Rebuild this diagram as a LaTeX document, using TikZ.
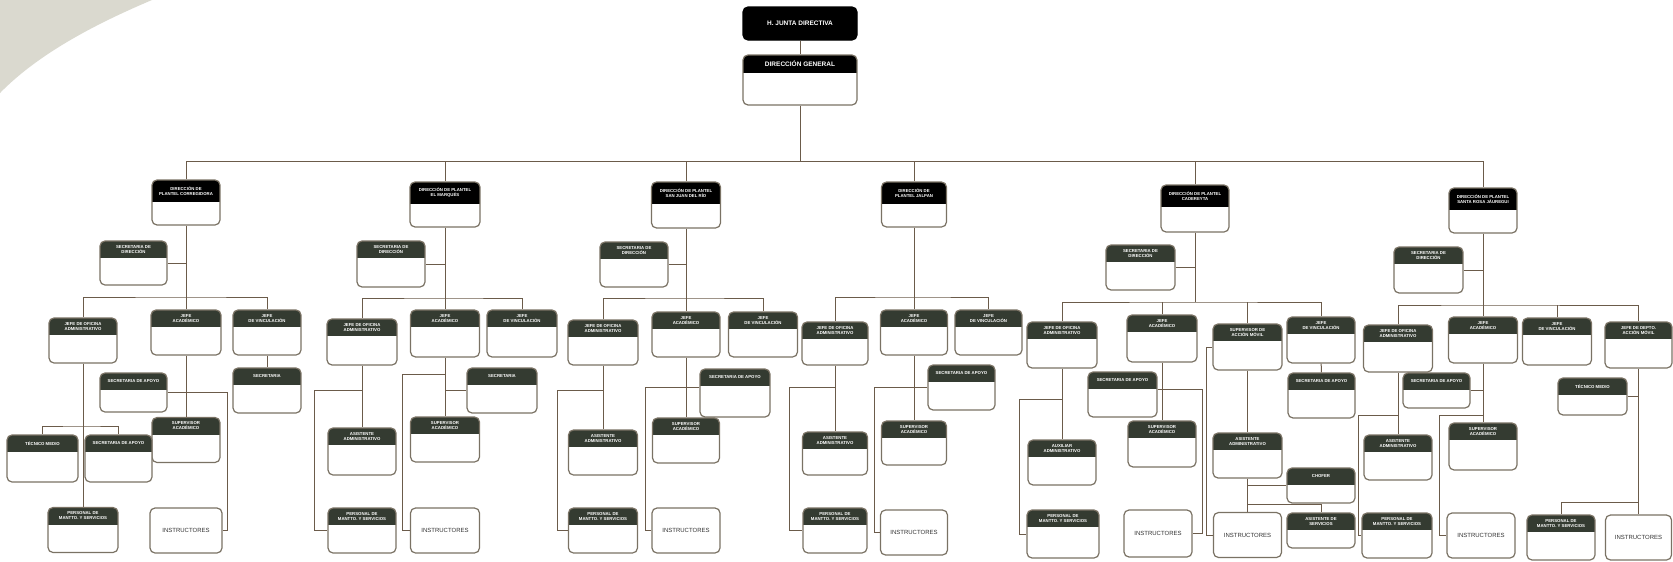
\documentclass[tikz,border=0pt]{standalone}
\usepackage{fontspec}
\setsansfont{Liberation Sans}
\usepackage{tikz}
\definecolor{boxline}{HTML}{7A7264}
\definecolor{hdr}{HTML}{343B31}
\definecolor{linecol}{HTML}{6B5B4A}
\definecolor{wedge}{HTML}{DAD9CF}
\tikzset{
  unit/.style={draw=boxline, line width=1.2pt, rounded corners=5pt, fill=white,
    minimum width=68pt, minimum height=45pt, inner sep=0pt},
  hdrtext/.style={text=white, font=\sffamily\bfseries\fontsize{4.3}{5}\selectfont,
    align=center, inner sep=0pt, minimum width=0pt, minimum height=0pt, draw=none, fill=none},
  hdrbox/.style n args={3}{unit, path picture={
      \fill[#1, sharp corners] (path picture bounding box.north west) rectangle ([yshift=-#2]path picture bounding box.north east);
      \node[hdrtext] at ([yshift=-#2/2]path picture bounding box.north) {#3};}},
  puesto/.style={hdrbox={hdr}{17pt}{#1}},
  plantel/.style={hdrbox={black}{22pt}{#1}},
  instr/.style={unit, font=\sffamily\fontsize{6}{7}\selectfont, text=black!80},
}
\tikzstyle{link}=[draw=linecol, line width=1pt]

\begin{document}
\begin{tikzpicture}[x=1pt,y=-1pt]
  \useasboundingbox (0,0) rectangle (1673,562);
  \fill[white] (0,0) rectangle (1673,562);
  \fill[wedge] (0,0) -- (152,0) .. controls (100,22) and (40,52) .. (0,93) -- cycle;

  % cabeza
  \node[unit, fill=black, draw=black, minimum width=114pt, minimum height=33pt, text=white,
    font=\sffamily\bfseries\fontsize{6.5}{7}\selectfont] (hjd) at (800,23.5) {H. JUNTA DIRECTIVA};
  \node[hdrbox={black}{18pt}{\fontsize{6.5}{7}\selectfont DIRECCIÓN GENERAL},
    minimum width=114pt, minimum height=50pt] (dg) at (800,80) {};

  % plantel corregidora
  \node[plantel={DIRECCIÓN DE\\PLANTEL CORREGIDORA}] (cDir) at (186,202.5) {};
  \node[puesto={SECRETARIA DE\\DIRECCIÓN}, minimum width=67pt, minimum height=44pt] (cSec) at (133.5,263) {};
  \node[puesto={JEFE DE OFICINA\\ADMINISTRATIVO}] (cAdm) at (83,340.5) {};
  \node[puesto={JEFE\\ACADÉMICO}, minimum width=70pt] (cAca) at (186,332.5) {};
  \node[puesto={JEFE\\DE VINCULACIÓN}] (cVin) at (267,332.5) {};
  \node[puesto={SECRETARIA}] (cSev) at (267,390.5) {};
  \node[puesto={SECRETARIA DE APOYO}, minimum width=67pt, minimum height=39pt] (cSaA) at (133.5,392.5) {};
  \node[puesto={SUPERVISOR\\ACADÉMICO}] (cSup) at (186,440) {};
  \node[puesto={TÉCNICO MEDIO}, minimum width=71pt, minimum height=47pt] (cTec) at (42.5,458.5) {};
  \node[puesto={SECRETARIA DE APOYO}, minimum width=67pt, minimum height=47pt] (cSaM) at (118.5,458.5) {};
  \node[puesto={PERSONAL DE\\MANTTO. Y SERVICIOS}, minimum width=70pt] (cPer) at (83,530) {};
  \node[instr, minimum width=72pt] (cIns) at (186,530.5) {INSTRUCTORES};

  % plantel el marques
  \node[plantel={DIRECCIÓN DE PLANTEL\\EL MARQUÉS}, minimum width=70pt] (mDir) at (445,204.5) {};
  \node[puesto={SECRETARIA DE\\DIRECCIÓN}, minimum height=46pt] (mSec) at (391,264) {};
  \node[puesto={JEFE DE OFICINA\\ADMINISTRATIVO}, minimum width=70pt, minimum height=46pt] (mAdm) at (362,342) {};
  \node[puesto={JEFE\\ACADÉMICO}, minimum width=69pt, minimum height=47pt] (mAca) at (445,333.5) {};
  \node[puesto={JEFE\\DE VINCULACIÓN}, minimum width=70pt, minimum height=47pt] (mVin) at (522,333.5) {};
  \node[puesto={SECRETARIA}, minimum width=70pt] (mSea) at (502,390.5) {};
  \node[puesto={SUPERVISOR\\ACADÉMICO}, minimum width=69pt] (mSup) at (445,439.5) {};
  \node[instr, minimum width=69pt] (mIns) at (445,530.5) {INSTRUCTORES};
  \node[puesto={ASISTENTE\\ADMINISTRATIVO}, minimum height=47pt] (mAsi) at (362,451.5) {};
  \node[puesto={PERSONAL DE\\MANTTO. Y SERVICIOS}] (mPer) at (362,530.5) {};

  % plantel san juan del rio
  \node[plantel={DIRECCIÓN DE PLANTEL\\SAN JUAN DEL RÍO}, minimum width=69pt, minimum height=46pt] (sDir) at (686,205) {};
  \node[puesto={SECRETARIA DE\\DIRECCIÓN}] (sSec) at (634,264.5) {};
  \node[puesto={JEFE DE OFICINA\\ADMINISTRATIVO}, minimum width=70pt] (sAdm) at (603,342.5) {};
  \node[puesto={JEFE\\ACADÉMICO}] (sAca) at (686,334.5) {};
  \node[puesto={JEFE\\DE VINCULACIÓN}, minimum width=69pt] (sVin) at (763,334.5) {};
  \node[puesto={SECRETARIA DE APOYO}, minimum width=70pt, minimum height=48pt] (sSaA) at (735,393) {};
  \node[puesto={SUPERVISOR\\ACADÉMICO}, minimum width=67pt] (sSup) at (686,440.5) {};
  \node[instr] (sIns) at (686,530.5) {INSTRUCTORES};
  \node[puesto={ASISTENTE\\ADMINISTRATIVO}, minimum width=69pt] (sAsi) at (603,452.5) {};
  \node[puesto={PERSONAL DE\\MANTTO. Y SERVICIOS}, minimum width=69pt] (sPer) at (603,530.5) {};

  % plantel jalpan
  \node[plantel={DIRECCIÓN DE\\PLANTEL JALPAN}, minimum width=65pt] (aDir) at (914,204.5) {};
  \node[puesto={JEFE DE OFICINA\\ADMINISTRATIVO}, minimum width=66pt, minimum height=43pt] (aAdm) at (835,343.5) {};
  \node[puesto={JEFE\\ACADÉMICO}, minimum width=67pt] (aAca) at (914,332.5) {};
  \node[puesto={JEFE\\DE VINCULACIÓN}, minimum width=67pt] (aVin) at (988.5,332.5) {};
  \node[puesto={SECRETARIA DE APOYO}, minimum width=67pt] (aSaA) at (961.5,387.5) {};
  \node[puesto={SUPERVISOR\\ACADÉMICO}, minimum width=65pt, minimum height=44pt] (aSup) at (914,443) {};
  \node[instr, minimum width=67pt] (aIns) at (914,532.5) {INSTRUCTORES};
  \node[puesto={ASISTENTE\\ADMINISTRATIVO}, minimum width=65pt, minimum height=43pt] (aAsi) at (835,453.5) {};
  \node[puesto={PERSONAL DE\\MANTTO. Y SERVICIOS}, minimum width=64pt] (aPer) at (835,530.5) {};

  % plantel cadereyta
  \node[plantel={DIRECCIÓN DE PLANTEL\\CADEREYTA}, minimum height=47pt] (dDir) at (1195,208.5) {};
  \node[puesto={SECRETARIA DE\\DIRECCIÓN}, minimum width=69pt] (dSec) at (1140.5,267.5) {};
  \node[puesto={JEFE DE OFICINA\\ADMINISTRATIVO}, minimum width=70pt, minimum height=46pt] (dAdm) at (1062,345) {};
  \node[puesto={JEFE\\ACADÉMICO}, minimum width=70pt, minimum height=47pt] (dAca) at (1162,338.5) {};
  \node[puesto={SUPERVISOR DE\\ACCIÓN MÓVIL}, minimum width=69pt, minimum height=46pt] (dMov) at (1247.5,347) {};
  \node[puesto={JEFE\\DE VINCULACIÓN}, minimum height=46pt] (dVin) at (1321,340) {};
  \node[puesto={SECRETARIA DE APOYO}, minimum width=67pt] (dSaV) at (1321.5,395.5) {};
  \node[puesto={SECRETARIA DE APOYO}, minimum width=69pt] (dSaA) at (1122.5,394.5) {};
  \node[puesto={SUPERVISOR\\ACADÉMICO}, minimum height=46pt] (dSup) at (1162,444) {};
  \node[instr, minimum height=47pt] (dIns) at (1158,533.5) {INSTRUCTORES};
  \node[puesto={AUXILIAR\\ADMINISTRATIVO}] (dAux) at (1062,462.5) {};
  \node[puesto={PERSONAL DE\\MANTTO. Y SERVICIOS}, minimum width=72pt, minimum height=48pt] (dPer) at (1063,534) {};
  \node[puesto={ASISTENTE\\ADMINISTRATIVO}, minimum width=69pt] (dAsi) at (1247.5,455.5) {};
  \node[instr] (dIn2) at (1247.5,535) {INSTRUCTORES};
  \node[puesto={CHOFER}, minimum height=35pt] (dCho) at (1321,485.5) {};
  \node[puesto={ASISTENTE DE\\SERVICIOS}, minimum height=35pt] (dSer) at (1321,530.5) {};

  % plantel santa rosa jauregui
  \node[plantel={DIRECCIÓN DE PLANTEL\\SANTA ROSA JÁUREGUI}] (rDir) at (1483,210.5) {};
  \node[puesto={SECRETARIA DE\\DIRECCIÓN}, minimum width=69pt, minimum height=46pt] (rSec) at (1428.5,270) {};
  \node[puesto={JEFE DE OFICINA\\ADMINISTRATIVO}, minimum width=69pt, minimum height=47pt] (rAdm) at (1398,348.5) {};
  \node[puesto={JEFE\\ACADÉMICO}, minimum width=69pt, minimum height=46pt] (rAca) at (1483,340) {};
  \node[puesto={JEFE\\DE VINCULACIÓN}, minimum width=69pt, minimum height=47pt] (rVin) at (1557,341.5) {};
  \node[puesto={JEFE DE DEPTO.\\ACCIÓN MÓVIL}, minimum width=67pt, minimum height=46pt] (rMov) at (1638.5,345) {};
  \node[puesto={TÉCNICO MEDIO}, minimum width=69pt, minimum height=37pt] (rTec) at (1592.5,396.5) {};
  \node[puesto={SECRETARIA DE APOYO}, minimum width=67pt, minimum height=35pt] (rSaA) at (1436.5,390.5) {};
  \node[puesto={SUPERVISOR\\ACADÉMICO}, minimum height=47pt] (rSup) at (1483,446.5) {};
  \node[instr] (rIns) at (1481,535.5) {INSTRUCTORES};
  \node[puesto={ASISTENTE\\ADMINISTRATIVO}] (rAsi) at (1398,457.5) {};
  \node[puesto={PERSONAL DE\\MANTTO. Y SERVICIOS}, minimum width=70pt] (rPer) at (1397,535.5) {};
  \node[puesto={PERSONAL DE\\MANTTO. Y SERVICIOS}] (rPe2) at (1561,537.5) {};
  \node[instr, minimum width=66pt] (rIn2) at (1638.5,537.5) {INSTRUCTORES};

  % lineas de mando
  \coordinate (bus) at (800,161);
  \draw[link] (hjd) -- (dg);
  \draw[link] (dg) -- (bus);
  \draw[link] (cDir.north) -- (cDir.north |- bus) -- (rDir.north |- bus) -- (rDir.north);
  \foreach \p in {mDir,sDir,aDir,dDir}
    \draw[link] (\p.north) -- (\p.north |- bus);

  \coordinate (cb) at (186,297);
  \draw[link] (cDir) -- (cAca);
  \draw[link] (cSec.east) -- (cSec.east -| cDir);
  \draw[link] (cAdm.north) |- (cb) -| (cVin.north);
  \draw[link] (cAca) -- (cSup);
  \draw[link] (cVin) -- (cSev);
  \coordinate (ci) at (227,392.5);
  \draw[link] (cSaA.east) -- (ci) |- (cIns.east);
  \draw[link] (cAdm) -- (cPer);
  \coordinate (ct) at (83,426);
  \draw[link] (cTec.north) |- (ct) -| (cSaM.north);

  \coordinate (mb) at (445,298);
  \draw[link] (mDir) -- (mAca);
  \draw[link] (mSec.east) -- (mSec.east -| mDir);
  \draw[link] (mAdm.north) |- (mb) -| (mVin.north);
  \draw[link] (mAca) -- (mSup);
  \draw[link] (mSea.west) -- (mSea.west -| mAca);
  \coordinate (mi) at (402,374);
  \draw[link] (mi -| mAca) -- (mi) |- (mIns.west);
  \draw[link] (mAdm) -- (mAsi);
  \coordinate (mp) at (314,390);
  \draw[link] (mp -| mAdm) -- (mp) |- (mPer.west);

  \coordinate (sb) at (686,298);
  \draw[link] (sDir) -- (sAca);
  \draw[link] (sSec.east) -- (sSec.east -| sDir);
  \draw[link] (sAdm.north) |- (sb) -| (sVin.north);
  \draw[link] (sAca) -- (sSup);
  \coordinate (si) at (645,387);
  \draw[link] (sSaA.west |- si) -- (si) |- (sIns.west);
  \draw[link] (sAdm) -- (sAsi);
  \coordinate (sp) at (557,390);
  \draw[link] (sp -| sAdm) -- (sp) |- (sPer.west);

  \coordinate (ab) at (914,297);
  \draw[link] (aDir) -- (aAca);
  \draw[link] (aAdm.north) |- (ab) -| (aVin.north);
  \draw[link] (aAca) -- (aSup);
  \coordinate (ai) at (874,387);
  \draw[link] (aSaA.west |- ai) -- (ai) |- (aIns.west);
  \draw[link] (aAdm) -- (aAsi);
  \coordinate (ap) at (789,387);
  \draw[link] (ap -| aAdm) -- (ap) |- (aPer.west);

  \coordinate (db) at (1195,302);
  \draw[link] (dDir) -- (db);
  \draw[link] (dSec.east) -- (dSec.east -| dDir);
  \draw[link] (dAdm.north) |- (db) -| (dVin.north);
  \draw[link] (dAca.north) -- (dAca.north |- db);
  \draw[link] (dMov.north) -- (dMov.north |- db);
  \draw[link] (dAca) -- (dSup);
  \coordinate (di) at (1202,389);
  \draw[link] (dSaA.east |- di) -- (di) |- (dIns.east);
  \coordinate (dm) at (1206,347);
  \draw[link] (dMov.west) -- (dm) |- (dIn2.west);
  \draw[link] (dVin) -- (dSaV);
  \draw[link] (dAdm) -- (dAux);
  \coordinate (dp) at (1019,399);
  \draw[link] (dp -| dAdm) -- (dp) |- (dPer.west);
  \draw[link] (dMov) -- (dAsi);
  \draw[link] (dAsi) -- (dIn2);
  \draw[link] (dAsi |- dCho.west) -- (dCho.west);
  \coordinate (ds) at (1247.5,504);
  \draw[link] (ds) -| (dSer.north);

  \coordinate (rb) at (1483,305);
  \draw[link] (rDir) -- (rAca);
  \draw[link] (rSec.east) -- (rSec.east -| rDir);
  \draw[link] (rAdm.north) |- (rb) -| (rMov.north);
  \draw[link] (rVin.north) -- (rVin.north |- rb);
  \draw[link] (rAca) -- (rSup);
  \draw[link] (rSaA.east) -- (rSaA.east -| rAca);
  \coordinate (ri) at (1439,415);
  \draw[link] (ri -| rAca) -- (ri) |- (rIns.west);
  \draw[link] (rAdm) -- (rAsi);
  \coordinate (rp) at (1358,415);
  \draw[link] (rp -| rAdm) -- (rp) |- (rPer.west);
  \draw[link] (rMov) -- (rIn2);
  \draw[link] (rTec.east) -- (rTec.east -| rMov);
  \coordinate (rq) at (1638.5,502);
  \draw[link] (rq) -| (rPe2.north);
\end{tikzpicture}
\end{document}
